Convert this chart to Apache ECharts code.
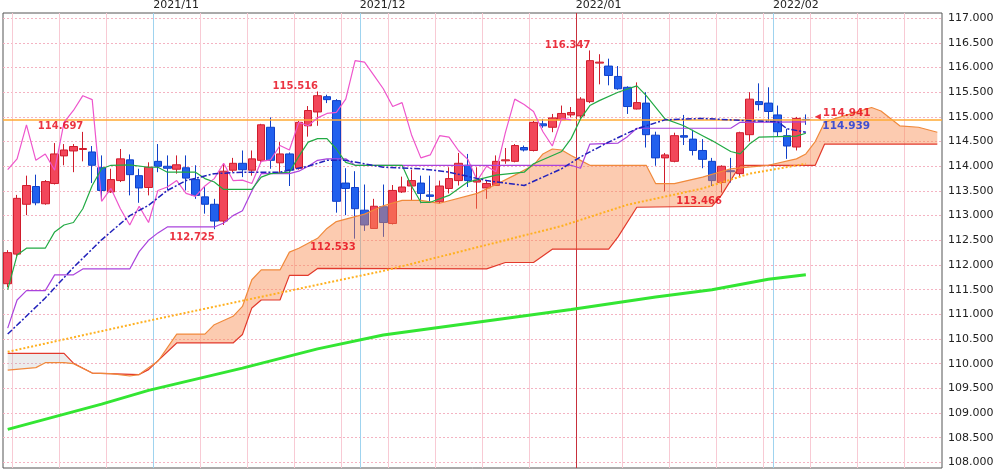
<!DOCTYPE html>
<html><head><meta charset="utf-8">
<script src="https://cdn.jsdelivr.net/npm/echarts@6/dist/echarts.min.js"></script>
<style>html,body{margin:0;padding:0;background:#fff}#c{width:1000px;height:472px}</style>
</head><body><div id="c"></div>
<script>
// ---- data ----
const startDay = '2021-10-08';
const slotCount = 100; // 86 trading days + cloud shown ahead
const opens = [111.62,112.22,113.23,113.59,113.24,113.65,114.21,114.31,114.34,114.29,
 113.97,113.48,113.71,114.13,113.81,113.57,114.10,114.00,113.94,113.97,
 113.73,113.38,113.23,112.89,113.92,114.06,113.92,114.12,114.79,114.07,
 114.25,113.96,114.82,115.10,115.41,115.33,113.66,113.57,113.11,112.74,
 113.18,112.84,113.48,113.60,113.66,113.42,113.28,113.55,113.71,114.02,
 113.68,113.56,113.61,114.11,114.10,114.38,114.32,114.86,114.79,114.94,
 115.04,115.02,115.31,116.09,116.03,115.82,115.60,115.16,115.28,114.63,
 114.17,114.10,114.62,114.55,114.32,114.10,113.67,113.91,113.85,114.64,
 115.31,115.28,115.04,114.62,114.39,114.95];
const closes = [112.25,113.35,113.61,113.26,113.69,114.25,114.33,114.40,114.36,114.02,
 113.51,113.73,114.15,113.83,113.56,113.98,114.00,113.96,114.03,113.76,
 113.41,113.23,112.89,113.90,114.06,113.93,114.15,114.84,114.12,114.25,
 113.92,114.89,115.13,115.43,115.35,113.29,113.55,113.14,112.81,113.19,
 112.86,113.51,113.58,113.71,113.45,113.39,113.60,113.75,114.06,113.71,
 113.72,113.65,114.10,114.13,114.42,114.33,114.89,114.82,114.98,115.07,
 115.09,115.36,116.14,116.11,115.84,115.57,115.21,115.29,114.64,114.17,
 114.23,114.62,114.59,114.32,114.14,113.71,114.00,113.89,114.68,115.36,
 115.25,115.11,114.70,114.41,114.97,114.941];
const lows = [111.55,112.18,113.01,113.21,113.22,113.63,114.02,113.88,114.10,113.66,
 113.31,113.46,113.68,113.41,113.26,113.41,113.88,113.51,113.85,113.51,
 113.34,113.04,112.725,112.81,113.88,113.78,113.81,114.05,113.95,113.86,
 113.60,113.93,114.60,114.82,115.28,113.06,113.01,112.533,112.69,112.73,
 112.57,112.82,113.46,113.31,113.25,113.27,113.24,113.45,113.61,113.58,
 113.14,113.34,113.60,114.05,114.08,114.30,114.30,114.78,114.69,114.93,
 114.99,114.94,115.28,115.66,115.64,115.55,115.06,115.15,114.38,114.01,
 113.49,114.08,114.43,114.22,113.96,113.60,113.466,113.67,113.78,114.50,
 115.13,114.89,114.60,114.15,114.32,114.84];
const highs = [112.30,113.42,113.81,113.83,113.72,114.47,114.45,114.45,114.697,114.41,
 114.22,113.95,114.35,114.24,113.95,114.08,114.45,114.22,114.22,114.22,
 114.02,113.58,113.34,114.05,114.17,114.32,114.32,114.86,114.99,114.49,
 114.28,114.92,115.22,115.516,115.45,115.36,113.96,113.90,113.63,113.34,
 113.63,113.62,113.79,113.93,113.81,113.81,113.71,113.98,114.27,114.25,
 113.98,113.71,114.22,114.37,114.45,114.42,114.92,114.96,115.06,115.23,
 115.20,115.40,116.347,116.27,116.18,116.03,115.62,115.70,115.50,114.70,
 114.27,114.68,115.04,114.74,114.55,114.17,114.02,114.17,114.70,115.50,
 115.68,115.60,115.23,114.76,115.00,115.05];
// indicator lines as [slot index, value]
const tenkan = [[0,111.50],[1,112.20],[2,112.34],[4,112.34],[5,112.67],[6,112.81],[7,112.86],[8,113.14],[9,113.61],[10,113.95],[11,114.02],[13,114.03],[15,113.98],[16,113.98],[17,113.88],[20,113.88],[21,113.75],[22,113.68],[23,113.53],[26,113.53],[27,113.78],[28,113.85],[30,113.88],[31,114.20],[32,114.49],[33,114.56],[34,114.56],[35,114.35],[36,114.08],[37,114.02],[42,114.02],[43,113.60],[44,113.27],[45,113.27],[47,113.41],[49,113.68],[52,113.82],[55,113.88],[56,114.05],[59,114.30],[60,114.56],[61,114.96],[62,115.23],[63,115.33],[65,115.50],[67,115.63],[68,115.43],[70,114.96],[72,114.82],[74,114.62],[75,114.52],[77,114.30],[78,114.25],[79,114.45],[80,114.59],[84,114.61],[85,114.67]];
const kijun = [[0,110.72],[1,111.29],[2,111.48],[4,111.48],[5,111.80],[7,111.80],[8,111.92],[13,111.92],[14,112.27],[15,112.50],[16,112.65],[17,112.77],[22,112.77],[23,112.85],[24,113.00],[25,113.10],[26,113.50],[27,113.85],[30,113.85],[31,113.90],[32,114.00],[33,114.12],[34,114.15],[36,114.15],[37,114.02],[60,114.02],[61,113.96],[62,114.45],[65,114.47],[66,114.60],[67,114.77],[77,114.77],[78,114.89],[85,114.90]];
const maShort = [[0,110.60],[4,111.33],[7,111.95],[10,112.51],[13,113.00],[15,113.21],[17,113.51],[19,113.71],[22,113.85],[25,113.88],[29,113.88],[32,114.00],[34,114.12],[36,114.12],[40,113.98],[44,113.95],[47,113.88],[51,113.71],[55,113.61],[59,113.95],[61,114.19],[64,114.49],[67,114.76],[70,114.94],[74,114.97],[78,114.93],[82,114.90],[83,114.76],[85,114.69]];
const maMid = [[0,110.24],[15,110.87],[35,111.68],[40,111.88],[44,112.07],[59,112.79],[66,113.22],[74,113.55],[79,113.85],[85,114.05]];
const maLong = [[0,108.67],[10,109.18],[15,109.46],[25,109.91],[33,110.30],[40,110.58],[50,110.84],[60,111.10],[69,111.35],[75,111.50],[81,111.71],[85,111.80]];
const spanA = [[0,109.87],[3,109.92],[4,110.02],[6,110.02],[7,110.00],[9,109.81],[11,109.80],[13,109.75],[14,109.78],[15,109.92],[16,110.05],[18,110.60],[21,110.60],[22,110.79],[24,110.96],[25,111.16],[26,111.70],[27,111.90],[29,111.90],[30,112.26],[31,112.34],[33,112.54],[34,112.74],[35,112.88],[38,113.03],[40,113.20],[42,113.31],[44,113.31],[46,113.25],[50,113.45],[52,113.63],[54,113.82],[56,114.02],[57,114.25],[58,114.35],[59,114.33],[60,114.22],[61,114.12],[62,114.02],[68,114.02],[69,113.65],[71,113.65],[74,113.78],[77,113.95],[81,114.02],[84,114.15],[85,114.25],[86,114.50],[87,114.89],[88,114.96],[92,115.19],[93,115.12],[95,114.82],[97,114.79],[99,114.69]];
const spanB = [[0,110.21],[6,110.21],[7,110.01],[9,109.81],[14,109.78],[15,109.88],[18,110.42],[24,110.42],[25,110.59],[26,111.13],[27,111.29],[29,111.29],[30,111.79],[32,111.79],[33,111.93],[51,111.92],[53,112.05],[56,112.05],[58,112.32],[64,112.32],[65,112.57],[67,113.17],[75,113.19],[76,113.41],[78,114.02],[86,114.02],[87,114.45],[99,114.45]];
const chikouShift = 25;
const peakIdx = [8, 33, 62];
const troughIdx = [22, 37, 76];
const lastPrice = 114.941, lastPriceBid = 114.939;
const yTicks = {min:108, max:117, step:0.5};

// ---- build ----
function weekdays(start, n){const out=[];const d=new Date(start+'T00:00:00Z');while(out.length<n){const w=d.getUTCDay();if(w!==0&&w!==6)out.push(d.toISOString().slice(0,10));d.setUTCDate(d.getUTCDate()+1);}return out;}
const bounds = weekdays(startDay, slotCount+1);   // slot boundaries
const cats = bounds.slice(0, slotCount);
const isMonday = (i)=> new Date(bounds[i]+'T00:00:00Z').getUTCDay()===1;
const isMonthStart = (i)=> i>0 && bounds[i].slice(5,7)!==bounds[i-1].slice(5,7);
const isYearStart = (i)=> i>0 && bounds[i].slice(0,4)!==bounds[i-1].slice(0,4);
const ohlc = opens.map((o,i)=>[o,closes[i],lows[i],highs[i]]);
const chikou = closes.slice(chikouShift).map((v,i)=>[i,v]);
const FONT = 'DejaVu Sans';
const RED = '#e60012', BLUE = '#1030d8';

const chart = echarts.init(document.getElementById('c'));
const gridBox = {left:3, right:58};
const lineAxis = (fn, color) => ({type:'category', gridIndex:0, data:bounds, boundaryGap:false,
  axisLine:{show:false}, axisTick:{show:false}, axisLabel:{show:false},
  splitLine:{show:true, interval:(i)=>fn(i), lineStyle:{color:color, width:1}}});
const lineS = (data, color, width, type, z) => ({type:'line', xAxisIndex:0, yAxisIndex:1, data, symbol:'none', z:z||5,
  lineStyle:{color, width, type:type||'solid'}, silent:true, animation:false});

const cloudPoly = (api, a, b) => a.map(p=>api.coord(p)).concat(b.slice().reverse().map(p=>api.coord(p)));
const grayA = spanA.filter(p=>p[0]<=7), grayB = spanB.filter(p=>p[0]<=7);
const orA = spanA.filter(p=>p[0]>=7), orB = spanB.filter(p=>p[0]>=7);
const annLabel = {show:true, align:'right', color:RED, fontWeight:'bold', fontSize:10, fontFamily:FONT,
  formatter:(p)=>p.value[1].toFixed(3)};

chart.setOption({
  animation:false,
  textStyle:{fontFamily:FONT},
  grid:[
    Object.assign({top:13, bottom:4, show:true, borderColor:'#555', borderWidth:1, backgroundColor:'#fff'}, gridBox),
    Object.assign({top:18.2, bottom:9.6}, gridBox)
  ],
  xAxis:[
    {type:'category', gridIndex:1, data:cats, boundaryGap:true, show:false},
    lineAxis((i)=>isMonday(i)&&!isMonthStart(i), '#f8cad4'),
    lineAxis((i)=>isMonthStart(i)&&!isYearStart(i), '#9fd3ef'),
    lineAxis((i)=>isYearStart(i), '#c8303c'),
    {type:'category', gridIndex:0, data:bounds, boundaryGap:false, position:'top',
      axisLine:{show:false}, axisTick:{show:false}, splitLine:{show:false},
      axisLabel:{show:true, interval:(i)=>isMonthStart(i), align:'left', margin:2, color:'#222', fontSize:11, fontFamily:FONT,
        formatter:(v)=>v.slice(0,4)+'/'+v.slice(5,7)}}
  ],
  yAxis:[
    {type:'value', gridIndex:0, min:0, max:1, show:false},
    {type:'value', gridIndex:1, position:'right', min:yTicks.min, max:yTicks.max, interval:yTicks.step,
      axisLine:{show:false}, axisTick:{show:false},
      axisLabel:{color:'#222', fontSize:11, fontFamily:FONT, margin:6, formatter:(v)=>v.toFixed(3)},
      splitLine:{show:true, lineStyle:{color:'#f4b3c2', type:[2,2], width:1}}}
  ],
  series:[
    {type:'candlestick', xAxisIndex:0, yAxisIndex:1, data:ohlc, barWidth:8, z:2,
      itemStyle:{color:'#f2475a', color0:'#2160ee', borderColor:'#d01c2c', borderColor0:'#1040c8', borderWidth:1},
      markLine:{silent:true, symbol:'none', label:{show:false}, data:[{yAxis:lastPrice}],
        lineStyle:{color:'#ffaa33', width:1.5, type:'solid'}}},
    {type:'custom', xAxisIndex:0, yAxisIndex:1, z:3, silent:true, data:[[0,110]],
      renderItem:(params, api)=>({type:'group', children:[
        {type:'polygon', shape:{points:cloudPoly(api, grayA, grayB)}, style:{fill:'rgba(170,170,170,0.22)'}},
        {type:'polygon', shape:{points:cloudPoly(api, orA, orB)}, style:{fill:'rgba(248,140,80,0.45)'}}
      ]})},
    lineS(spanB, '#e23a2c', 1.2, 'solid', 4),
    lineS(spanA, '#f08a3c', 1.2, 'solid', 4),
    lineS(maLong, '#33e633', 3, 'solid', 4),
    lineS(maMid, '#ffb020', 2, [2,2], 4),
    lineS(chikou, '#ee55cc', 1.2),
    lineS(kijun, '#aa44dd', 1.2),
    lineS(tenkan, '#22aa44', 1.2),
    lineS(maShort, '#2222bb', 1.5, [6,2,2,2]),
    {type:'scatter', xAxisIndex:0, yAxisIndex:1, z:8, silent:true, symbolSize:1, itemStyle:{color:'transparent'},
      data:peakIdx.map(i=>[i, highs[i]]),
      label:Object.assign({position:[1,0], verticalAlign:'bottom'}, annLabel)},
    {type:'scatter', xAxisIndex:0, yAxisIndex:1, z:8, silent:true, symbolSize:1, itemStyle:{color:'transparent'},
      data:troughIdx.map(i=>[i, lows[i]]),
      label:Object.assign({position:[1,4], verticalAlign:'top'}, annLabel)},
    {type:'scatter', xAxisIndex:0, yAxisIndex:1, z:8, silent:true, symbol:'triangle', symbolRotate:90, symbolSize:[6,6], symbolOffset:[12,-3],
      itemStyle:{color:RED}, data:[[opens.length-1, lastPrice]],
      label:{show:true, position:[8,5], align:'left', verticalAlign:'bottom', color:RED, fontWeight:'bold', fontSize:10.5, fontFamily:FONT,
        formatter:()=>lastPrice.toFixed(3)}},
    {type:'scatter', xAxisIndex:0, yAxisIndex:1, z:8, silent:true, symbolSize:1, itemStyle:{color:'transparent'},
      data:[[opens.length-1, lastPrice]],
      label:{show:true, position:[17,1], align:'left', verticalAlign:'top', color:BLUE, fontWeight:'bold', fontSize:10.5, fontFamily:FONT,
        formatter:()=>lastPriceBid.toFixed(3)}}
  ]
});
</script></body></html>
